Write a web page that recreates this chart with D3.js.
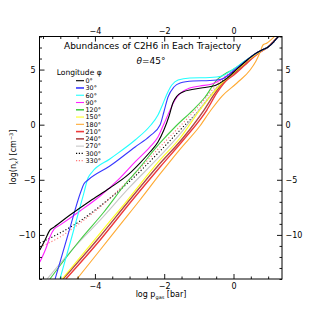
<!DOCTYPE html>
<html><head><meta charset="utf-8">
<script src="https://cdn.jsdelivr.net/npm/d3@7"></script>
<style>
body{margin:0;background:#fff}
svg{display:block}
text{font-family:"DejaVu Sans",sans-serif;fill:#000}
</style>
</head><body>
<svg id="chart" width="319" height="319"></svg>
<script>
// ---- data (log p_gas [bar], log n_x [cm^-3]) ----
const longitudes = ["0°","30°","60°","90°","120°","150°","180°","210°","240°","270°","300°","330°"];
const colors = ["#000000","#3838ff","#22ffff","#ff22ff","#44cc44","#ffff22","#ffaa33","#ee3b3b","#b04848","#c8c8c8","#000000","#ff7a7a"];
const dotted = [false,false,false,false,false,false,false,false,false,false,true,true];

const phi0 = [[-5.59,-11.37],[-5.44,-10.46],[-5.30,-9.56],[-5.18,-9.29],[-4.72,-8.20],[-4.14,-6.92],[-3.57,-5.74],[-3.05,-4.56],[-2.70,-3.48],[-2.41,-2.48],[-2.18,-1.57],[-2.01,-0.48],[-1.86,0.79],[-1.75,1.97],[-1.63,2.60],[-1.46,2.97],[-1.20,3.19],[-0.82,3.38],[-0.53,3.56],[-0.25,4.06],[0.01,4.78],[0.33,5.69],[0.62,6.42],[0.82,6.78],[1.00,7.05],[1.17,7.55],[1.31,8.05]];
const phi30 = [[-5.15,-14.0],[-4.78,-10.01],[-4.40,-6.02],[-4.32,-5.38],[-4.20,-5.02],[-3.57,-3.75],[-2.84,-2.02],[-2.41,-1.02],[-2.12,-0.03],[-2.01,1.15],[-1.89,2.51],[-1.72,3.42],[-1.54,3.78],[-1.17,3.96],[-0.68,4.01],[-0.33,4.15],[-0.04,4.78],[0.33,5.73],[0.62,6.42],[0.82,6.78],[1.00,7.05],[1.17,7.55],[1.31,8.05]];
const phi60 = [[-5.01,-14.0],[-4.66,-10.10],[-4.32,-6.20],[-4.20,-4.84],[-4.08,-4.29],[-3.57,-3.11],[-2.84,-1.39],[-2.41,-0.12],[-2.18,0.88],[-2.04,1.88],[-1.92,2.79],[-1.78,3.60],[-1.60,4.06],[-1.26,4.24],[-0.68,4.28],[-0.33,4.42],[-0.04,4.96],[0.33,5.78],[0.62,6.42],[0.82,6.78],[1.00,7.05],[1.17,7.55],[1.31,8.05]];
const phi90 = [[-5.59,-12.46],[-5.41,-11.19],[-5.30,-10.19],[-5.18,-9.47],[-5.01,-9.11],[-4.43,-7.83],[-3.85,-6.47],[-3.28,-4.84],[-2.84,-3.38],[-2.41,-2.02],[-2.18,-1.12],[-2.01,0.06],[-1.83,1.33],[-1.69,2.24],[-1.52,2.88],[-1.26,3.33],[-0.97,3.51],[-0.62,3.69],[-0.33,4.15],[-0.04,4.78],[0.33,5.69],[0.62,6.42],[0.82,6.78],[1.00,7.05],[1.17,7.55],[1.31,8.05]];
const phi120 = [[-5.30,-14.0],[-4.43,-10.46],[-3.74,-7.92],[-3.05,-5.11],[-2.84,-4.38],[-2.12,-1.66],[-1.66,-0.12],[-1.17,1.33],[-0.82,2.51],[-0.48,4.06],[-0.25,4.60],[-0.01,5.01],[0.33,5.78],[0.62,6.42],[0.82,6.78],[1.00,7.05],[1.17,7.55],[1.31,8.05]];
const phi150 = [[-4.95,-14.0],[-3.85,-9.83],[-3.13,-7.11],[-2.12,-3.20],[-1.54,-1.21],[-0.97,1.33],[-0.68,2.51],[-0.39,3.60],[-0.04,4.60],[0.33,5.60],[0.62,6.32],[0.82,6.73],[1.00,7.05],[1.17,7.55],[1.31,8.05]];
const phi180 = [[-4.52,-14.0],[-3.85,-11.37],[-3.28,-9.11],[-2.70,-6.83],[-2.12,-4.47],[-1.54,-2.21],[-0.97,-0.12],[-0.65,1.33],[-0.33,2.60],[0.10,3.78],[0.48,4.96],[0.65,5.78],[0.77,6.60],[0.85,7.23],[0.97,7.41],[1.08,7.69],[1.20,8.05]];
const phi210 = [[-4.84,-14.0],[-3.85,-10.46],[-2.99,-7.11],[-2.12,-3.84],[-1.40,-1.21],[-0.77,1.33],[-0.48,2.88],[-0.22,3.96],[0.01,4.51],[0.33,5.42],[0.62,6.23],[0.82,6.69],[1.00,7.05],[1.17,7.60],[1.31,8.05]];
const phi240 = [[-4.92,-14.0],[-3.94,-10.46],[-3.07,-7.11],[-2.21,-3.84],[-1.46,-1.21],[-0.85,1.33],[-0.53,2.88],[-0.27,3.96],[-0.01,4.60],[0.33,5.51],[0.62,6.28],[0.82,6.69],[1.00,7.05],[1.17,7.60],[1.31,8.05]];
const phi270 = [[-5.38,-14.0],[-4.72,-11.56],[-3.85,-8.65],[-2.99,-5.65],[-2.12,-2.84],[-1.54,-0.84],[-1.11,0.88],[-0.68,2.60],[-0.39,3.69],[-0.04,4.60],[0.33,5.60],[0.62,6.42],[0.82,6.78],[1.00,7.05],[1.17,7.55],[1.31,8.05]];
const phi300 = [[-5.59,-10.74],[-5.01,-9.83],[-4.43,-8.74],[-3.85,-7.38],[-3.05,-5.29],[-2.12,-2.39],[-1.54,-0.48],[-0.97,1.42],[-0.56,3.06],[-0.27,4.15],[0.01,4.87],[0.33,5.69],[0.62,6.42],[0.82,6.78],[1.00,7.05],[1.17,7.55],[1.31,8.05]];
const phi330 = [[-5.59,-11.10],[-5.01,-10.19],[-4.43,-8.92],[-3.85,-7.47],[-3.05,-5.11],[-2.12,-2.02],[-1.54,-0.12],[-0.97,1.79],[-0.59,3.24],[-0.30,4.24],[-0.01,4.87],[0.33,5.69],[0.62,6.42],[0.82,6.78],[1.00,7.05],[1.17,7.55],[1.31,8.05]];
const series = [phi0,phi30,phi60,phi90,phi120,phi150,phi180,phi210,phi240,phi270,phi300,phi330];

const xMajor = [-4,-2,0];
const yMajor = [5,0,-5,-10];
const xDomain = [-5.6,1.4];
const yDomain = [-14,8];

// ---- layout ----
const L=39.5, R=282, T=36.5, B=279;
const svg = d3.select("#chart");
const x = d3.scaleLinear().domain(xDomain).range([L,R]);
const y = d3.scaleLinear().domain(yDomain).range([B,T]);
const xMinor = d3.range(-5.5,1.41,0.5).filter(v=>!xMajor.includes(v));
const yMinor = d3.range(-14,8.01,1).filter(v=>!yMajor.includes(v));

svg.append("defs").append("clipPath").attr("id","clip")
  .append("rect").attr("x",L).attr("y",T).attr("width",R-L).attr("height",B-T);

// curves
const line = d3.line().x(d=>x(d[0])).y(d=>y(d[1])).curve(d3.curveMonotoneX);
const g = svg.append("g").attr("clip-path","url(#clip)");
series.map((s,i)=>({s,i})).reverse().forEach(({s,i})=>{
  g.append("path").attr("d",line(s)).attr("fill","none")
   .attr("stroke",colors[i])
   .attr("stroke-width", (i===7||i===8)?1.4:1.1)
   .attr("stroke-dasharray", dotted[i]?"1.2,2":null);
});

// axes
function styleAxis(sel){
  sel.select(".domain").remove();
  sel.selectAll("line").attr("stroke","#000").attr("stroke-width",0.9);
  sel.selectAll("text").attr("font-size",8).style("font-family","DejaVu Sans, sans-serif");
}
const fmt = d=> d<0 ? "\u2212"+Math.abs(d) : String(d);
svg.append("g").attr("transform",`translate(0,${B})`)
  .call(d3.axisBottom(x).tickValues(xMajor).tickSize(-5).tickPadding(4).tickFormat(fmt)).call(styleAxis);
svg.append("g").attr("transform",`translate(0,${B})`)
  .call(d3.axisBottom(x).tickValues(xMinor).tickSize(-2.5).tickFormat("")).call(styleAxis);
svg.append("g").attr("transform",`translate(0,${T})`)
  .call(d3.axisTop(x).tickValues(xMajor).tickSize(-5).tickPadding(3).tickFormat(fmt)).call(styleAxis);
svg.append("g").attr("transform",`translate(0,${T})`)
  .call(d3.axisTop(x).tickValues(xMinor).tickSize(-2.5).tickFormat("")).call(styleAxis);
svg.append("g").attr("transform",`translate(${L},0)`)
  .call(d3.axisLeft(y).tickValues(yMajor).tickSize(-5).tickPadding(4).tickFormat(fmt)).call(styleAxis);
svg.append("g").attr("transform",`translate(${L},0)`)
  .call(d3.axisLeft(y).tickValues(yMinor).tickSize(-2.5).tickFormat("")).call(styleAxis);
svg.append("g").attr("transform",`translate(${R},0)`)
  .call(d3.axisRight(y).tickValues(yMajor).tickSize(-5).tickPadding(3.5).tickFormat(fmt)).call(styleAxis);
svg.append("g").attr("transform",`translate(${R},0)`)
  .call(d3.axisRight(y).tickValues(yMinor).tickSize(-2.5).tickFormat("")).call(styleAxis);

svg.append("rect").attr("x",L).attr("y",T).attr("width",R-L).attr("height",B-T)
  .attr("fill","none").attr("stroke","#000").attr("stroke-width",1);

// titles
svg.append("text").attr("x",152.5).attr("y",48.5).attr("text-anchor","middle")
  .attr("font-size",8.6).attr("textLength",177).attr("lengthAdjust","spacingAndGlyphs")
  .text("Abundances of C2H6 in Each Trajectory");
const th = svg.append("text").attr("x",151).attr("y",63.5).attr("text-anchor","middle").attr("font-size",9);
th.append("tspan").attr("font-style","italic").text("θ");
th.append("tspan").text("=45°");

// axis labels
const xl = svg.append("text").attr("x",161).attr("y",297).attr("text-anchor","middle").attr("font-size",8);
xl.append("tspan").text("log p");
xl.append("tspan").attr("font-size",5).attr("dy",1.5).text("gas");
xl.append("tspan").attr("dy",-1.5).text(" [bar]");
const yl = svg.append("text").attr("transform","translate(16,157) rotate(-90)").attr("text-anchor","middle").attr("font-size",8);
yl.append("tspan").text("log(n");
yl.append("tspan").attr("font-size",5).attr("dy",1.5).text("x");
yl.append("tspan").attr("dy",-1.5).text(") [cm");
yl.append("tspan").attr("font-size",5).attr("dy",-3).text("\u22123");
yl.append("tspan").attr("dy",3).text("]");

// legend
const lg = svg.append("g");
lg.append("text").attr("x",56.7).attr("y",75.3).attr("font-size",7.8)
  .attr("textLength",45).attr("lengthAdjust","spacingAndGlyphs").text("Longitude φ");
longitudes.forEach((lab,i)=>{
  const yy = 80.7 + i*7.27;
  lg.append("line").attr("x1",76).attr("x2",84).attr("y1",yy).attr("y2",yy)
    .attr("stroke",colors[i]).attr("stroke-width",(i===1||i===4||i===7||i===8)?1.6:1.1)
    .attr("stroke-dasharray",dotted[i]?"1.2,1.6":null);
  lg.append("text").attr("x",85.5).attr("y",yy+2.3).attr("font-size",6.4).text(lab);
});
</script>
</body></html>
